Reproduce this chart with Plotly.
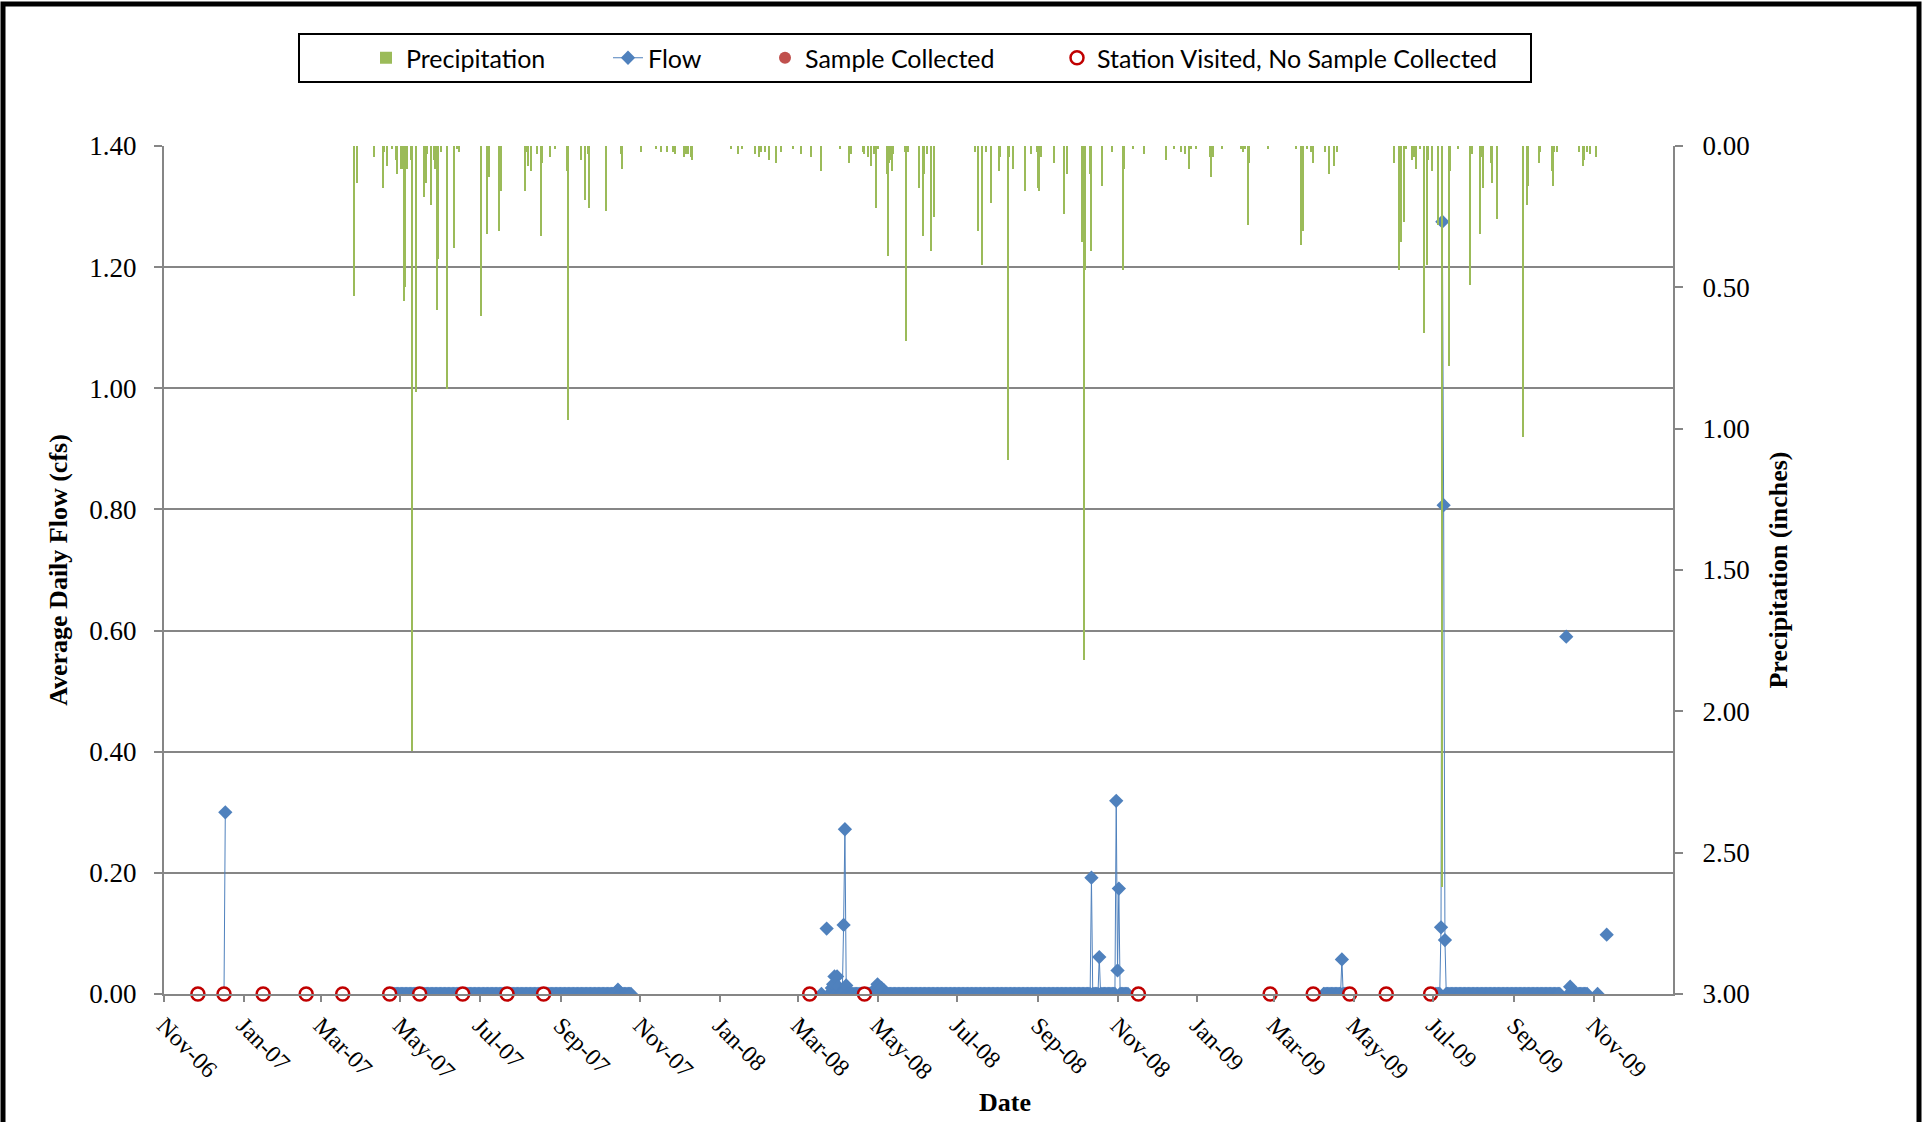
import pandas as pd
import plotly.graph_objects as go

# ---------------- data ----------------
precip_dates = [
    "2007-03-27", "2007-03-29", "2007-04-11", "2007-04-18", "2007-04-19", "2007-04-21", "2007-04-25",
    "2007-04-28", "2007-04-29", "2007-05-02", "2007-05-03", "2007-05-04", "2007-05-05", "2007-05-06",
    "2007-05-09", "2007-05-10", "2007-05-13", "2007-05-19", "2007-05-21", "2007-05-22", "2007-05-25",
    "2007-05-27", "2007-05-28", "2007-05-29", "2007-05-30", "2007-06-01", "2007-06-06", "2007-06-11",
    "2007-06-14", "2007-06-15", "2007-07-02", "2007-07-07", "2007-07-08", "2007-07-16", "2007-07-17",
    "2007-08-05", "2007-08-06", "2007-08-07", "2007-08-09", "2007-08-14", "2007-08-17", "2007-08-18",
    "2007-08-24", "2007-08-28", "2007-09-06", "2007-09-07", "2007-09-17", "2007-09-20", "2007-09-22",
    "2007-09-23", "2007-10-06", "2007-10-17", "2007-10-18", "2007-11-02", "2007-11-13", "2007-11-17",
    "2007-11-22", "2007-11-26", "2007-11-28", "2007-12-05", "2007-12-06", "2007-12-08", "2007-12-10",
    "2007-12-11", "2008-01-10", "2008-01-15", "2008-01-18", "2008-01-28", "2008-01-31", "2008-02-02",
    "2008-02-05", "2008-02-08", "2008-02-13", "2008-02-17", "2008-02-26", "2008-03-03", "2008-03-11",
    "2008-03-19", "2008-04-02", "2008-04-09", "2008-04-11", "2008-04-20", "2008-04-21", "2008-04-24",
    "2008-04-26", "2008-04-28", "2008-04-30", "2008-05-01", "2008-05-08", "2008-05-09", "2008-05-10",
    "2008-05-11", "2008-05-12", "2008-05-13", "2008-05-22", "2008-05-23", "2008-05-24", "2008-06-02",
    "2008-06-05", "2008-06-06", "2008-06-08", "2008-06-11", "2008-06-13", "2008-07-15", "2008-07-17",
    "2008-07-20", "2008-07-23", "2008-07-27", "2008-08-02", "2008-08-03", "2008-08-09", "2008-08-10",
    "2008-08-13", "2008-08-22", "2008-08-27", "2008-08-31", "2008-09-01", "2008-09-02", "2008-09-03",
    "2008-09-13", "2008-09-21", "2008-09-23", "2008-10-05", "2008-10-06", "2008-10-07", "2008-10-11",
    "2008-10-12", "2008-10-20", "2008-10-28", "2008-11-05", "2008-11-06", "2008-11-13", "2008-11-21",
    "2008-12-08", "2008-12-14", "2008-12-20", "2008-12-23", "2008-12-26", "2008-12-27", "2008-12-31",
    "2009-01-11", "2009-01-12", "2009-01-13", "2009-01-20", "2009-02-04", "2009-02-05", "2009-02-07",
    "2009-02-09", "2009-02-10", "2009-02-24", "2009-03-18", "2009-03-22", "2009-03-23", "2009-03-26",
    "2009-03-29", "2009-03-31", "2009-04-09", "2009-04-12", "2009-04-16", "2009-04-18", "2009-06-01",
    "2009-06-05", "2009-06-06", "2009-06-09", "2009-06-10", "2009-06-15", "2009-06-16", "2009-06-18",
    "2009-06-21", "2009-06-24", "2009-06-26", "2009-06-27", "2009-06-30", "2009-07-05", "2009-07-08",
    "2009-07-13", "2009-07-14", "2009-07-20", "2009-07-29", "2009-07-31", "2009-08-06", "2009-08-07",
    "2009-08-08", "2009-08-14", "2009-08-15", "2009-08-19", "2009-09-08", "2009-09-11", "2009-09-12",
    "2009-09-20", "2009-09-21", "2009-09-30", "2009-10-01", "2009-10-02", "2009-10-04", "2009-10-21",
    "2009-10-24", "2009-10-25", "2009-10-27", "2009-10-29", "2009-11-03",
]
precip_in = [
    0.53, 0.13, 0.04, 0.15, 0.02, 0.07, 0.01,
    0.05, 0.10, 0.08, 0.08, 0.55, 0.50, 0.08,
    0.05, 2.14, 0.87, 0.18, 0.13, 0.03, 0.21,
    0.05, 0.08, 0.58, 0.40, 0.02, 0.86, 0.36,
    0.01, 0.02, 0.60, 0.31, 0.11, 0.30, 0.16,
    0.16, 0.02, 0.07, 0.09, 0.03, 0.32, 0.06,
    0.04, 0.01, 0.09, 0.97, 0.05, 0.19, 0.03,
    0.22, 0.23, 0.03, 0.08, 0.02, 0.01, 0.02,
    0.02, 0.02, 0.03, 0.04, 0.03, 0.03, 0.04,
    0.05, 0.01, 0.03, 0.01, 0.03, 0.04, 0.02,
    0.02, 0.05, 0.06, 0.02, 0.01, 0.03, 0.04,
    0.09, 0.01, 0.06, 0.03, 0.02, 0.03, 0.04,
    0.07, 0.03, 0.22, 0.01, 0.10, 0.39, 0.06,
    0.05, 0.09, 0.03, 0.02, 0.69, 0.02, 0.15,
    0.32, 0.10, 0.03, 0.37, 0.25, 0.02, 0.30,
    0.42, 0.02, 0.20, 0.09, 0.04, 1.11, 0.04,
    0.08, 0.16, 0.03, 0.02, 0.15, 0.16, 0.04,
    0.06, 0.24, 0.10, 0.34, 1.82, 0.44, 0.10,
    0.37, 0.14, 0.02, 0.44, 0.08, 0.01, 0.03,
    0.05, 0.01, 0.02, 0.03, 0.08, 0.01, 0.01,
    0.04, 0.11, 0.04, 0.01, 0.01, 0.02, 0.01,
    0.28, 0.06, 0.01, 0.01, 0.35, 0.30, 0.01,
    0.02, 0.06, 0.02, 0.10, 0.07, 0.02, 0.06,
    0.44, 0.34, 0.27, 0.01, 0.05, 0.04, 0.08,
    0.01, 0.66, 0.42, 0.05, 0.09, 0.28, 2.62,
    0.78, 0.09, 0.01, 0.49, 0.03, 0.31, 0.04,
    0.15, 0.06, 0.13, 0.26, 1.03, 0.21, 0.14,
    0.06, 0.02, 0.09, 0.14, 0.02, 0.02, 0.02,
    0.07, 0.05, 0.02, 0.03, 0.04,
]

# periods of daily flow records (start, end); every day reads 0.00 cfs unless listed below
flow_record_starts = ["2006-12-17", "2007-04-23", "2008-03-19", "2008-03-23", "2008-03-25",
                      "2009-04-08", "2009-07-03", "2009-10-11", "2009-10-13", "2009-11-04", "2009-11-11"]
flow_record_ends = ["2006-12-18", "2007-10-25", "2008-03-19", "2008-03-23", "2008-11-09",
                    "2009-04-26", "2009-10-06", "2009-10-11", "2009-10-27", "2009-11-04", "2009-11-11"]
# non-zero daily flows
flow_peak_dates = [
    "2006-12-18", "2007-10-14", "2007-10-15", "2007-10-16",
    "2008-03-23", "2008-03-27", "2008-03-28", "2008-03-29", "2008-03-31", "2008-04-01",
    "2008-04-05", "2008-04-06", "2008-04-07",
    "2008-04-29", "2008-05-01", "2008-05-02", "2008-05-04", "2008-05-06",
    "2008-10-12", "2008-10-18", "2008-10-31", "2008-11-01", "2008-11-02",
    "2009-04-22", "2009-07-07", "2009-07-08", "2009-07-09", "2009-07-10",
    "2009-10-11", "2009-10-14", "2009-11-11",
]
flow_peak_cfs = [
    0.30, 0.004, 0.007, 0.004,
    0.108, 0.010, 0.016, 0.029, 0.029, 0.012,
    0.114, 0.272, 0.014,
    0.008, 0.016, 0.012, 0.010, 0.006,
    0.192, 0.061, 0.319, 0.039, 0.174,
    0.057, 0.110, 1.275, 0.807, 0.089,
    0.590, 0.012, 0.098,
]

visit_dates = [
    "2006-11-27", "2006-12-17", "2007-01-16", "2007-02-18", "2007-03-18", "2007-04-23",
    "2007-05-16", "2007-06-18", "2007-07-22", "2007-08-19", "2008-03-10", "2008-04-21",
    "2008-11-17", "2009-02-26", "2009-03-31", "2009-04-28", "2009-05-26", "2009-06-29",
]
visit_flow = [0.0, 0.0, 0.0, 0.0, 0.0, 0.0, 0.0, 0.0, 0.0, 0.0, 0.0, 0.0, 0.0, 0.0, 0.0, 0.0, 0.0, 0.0]

sample_dates = []
sample_flow = []

# ---------------- build flow series ----------------
peaks = dict(zip(pd.to_datetime(flow_peak_dates), flow_peak_cfs))
flow_x, flow_y = [], []
for s, e in zip(flow_record_starts, flow_record_ends):
    for d in pd.date_range(s, e, freq="D"):
        flow_x.append(d)
        flow_y.append(peaks.get(d, 0.0))
    flow_x.append(None)
    flow_y.append(None)

# ---------------- figure ----------------
W, H = 1927, 1122
PL, PT, PW, PH = 164, 146, 1509, 848   # plot area on screen
ML, MT = PL, PT
MR, MB = W - ML - PW, H - MT - PH


def px(X):
    return (X - PL) / PW


def py(Y):
    return (PT + PH - Y) / PH


GRID = "#868686"
SERIF = "Liberation Serif"
SANS = "Lato"

fig = go.Figure()
fig.add_trace(go.Bar(
    x=pd.to_datetime(precip_dates), y=precip_in, yaxis="y2", name="Precipitation",
    marker=dict(color="#9BBB59", line=dict(width=0)), width=0.8 * 86400000,
    legend="legend",
))
fig.add_trace(go.Scatter(
    x=flow_x, y=flow_y, mode="lines+markers", name="Flow",
    line=dict(color="#4F81BD", width=1),
    marker=dict(symbol="diamond", size=11, color="#4F81BD"),
    legend="legend2",
))
fig.add_trace(go.Scatter(
    x=sample_dates if sample_dates else [None], y=sample_flow if sample_flow else [None],
    mode="markers", name="Sample Collected",
    marker=dict(symbol="circle", size=12, color="#C0504D"),
    legend="legend3",
))
fig.add_trace(go.Scatter(
    x=pd.to_datetime(visit_dates), y=visit_flow, mode="markers",
    name="Station Visited, No Sample Collected",
    marker=dict(symbol="circle", size=13, color="white", line=dict(color="#C00000", width=2.5)),
    legend="legend4", cliponaxis=False,
))

leg_common = dict(orientation="h", bgcolor="rgba(0,0,0,0)", borderwidth=0,
                  font=dict(family=SANS, size=25, color="black"),
                  xanchor="left", yanchor="middle", y=py(58))

fig.update_layout(
    width=W, height=H,
    margin=dict(l=ML, r=MR, t=MT, b=MB, autoexpand=False),
    paper_bgcolor="white", plot_bgcolor="white",
    bargap=0,
    showlegend=True,
    legend=dict(leg_common, x=px(366)),
    legend2=dict(leg_common, x=px(608)),
    legend3=dict(leg_common, x=px(765)),
    legend4=dict(leg_common, x=px(1057)),
    xaxis=dict(
        type="date", range=["2006-11-01", "2009-12-31 20:00"],
        tick0="2006-11-01", dtick="M2", tickformat="%b-%y", tickangle=45,
        ticks="outside", ticklen=6, tickcolor=GRID, tickwidth=2,
        showline=True, linecolor=GRID, linewidth=2, showgrid=False, zeroline=False,
        tickfont=dict(family=SERIF, size=24, color="black"),
        automargin=False,
    ),
    yaxis=dict(
        range=[0, 1.4], dtick=0.2, tick0=0, tickformat=".2f",
        ticks="outside", ticklen=8, tickcolor=GRID, tickwidth=2,
        showline=True, linecolor=GRID, linewidth=2,
        showgrid=True, gridcolor=GRID, gridwidth=2, zeroline=False,
        tickfont=dict(family=SERIF, size=27, color="black"), ticklabelstandoff=12,
        title=dict(text="Average Daily Flow (cfs)", font=dict(family=SERIF, size=26, color="black", weight="bold"),
                   standoff=14),
        automargin=False,
    ),
    yaxis2=dict(
        overlaying="y", side="right", range=[3, 0], dtick=0.5, tick0=0, tickformat=".2f",
        ticks="outside", ticklen=8, tickcolor=GRID, tickwidth=2,
        showline=True, linecolor=GRID, linewidth=2, showgrid=False, zeroline=False,
        tickfont=dict(family=SERIF, size=27, color="black"), ticklabelstandoff=14,
        title=dict(text="Precipitation (inches)", font=dict(family=SERIF, size=26, color="black", weight="bold"),
                   standoff=20),
        automargin=False,
    ),
    annotations=[
        dict(text="Date", xref="paper", yref="paper", x=px(1005), y=py(1102),
             xanchor="center", yanchor="middle", showarrow=False,
             font=dict(family=SERIF, size=26, color="black", weight="bold")),
    ],
    shapes=[
        # legend frame
        dict(type="rect", xref="paper", yref="paper", x0=px(299), x1=px(1531), y0=py(82), y1=py(34),
             line=dict(color="black", width=2), fillcolor="rgba(0,0,0,0)", layer="above"),
        # outer chart border
        dict(type="rect", xref="paper", yref="paper", x0=px(3), x1=px(1919), y0=py(1135), y1=py(4),
             line=dict(color="black", width=5), fillcolor="rgba(0,0,0,0)", layer="above"),
    ],
)

fig.write_html("out.html", config={"displayModeBar": False},
               post_script="document.body.style.margin='0px';")
